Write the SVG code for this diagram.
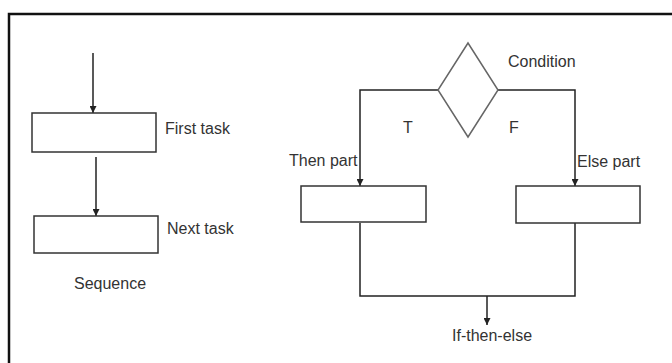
<svg xmlns="http://www.w3.org/2000/svg" width="672" height="363" viewBox="0 0 672 363">
<style>
.ln{fill:none;stroke:#222;stroke-width:1.5}
.bx{fill:#fff;stroke:#333;stroke-width:1.5}
.dm{fill:#fff;stroke:#666;stroke-width:1.5}
text{font-family:"Liberation Sans",Arial,sans-serif;font-size:16px;fill:#333}
</style>
<defs>
<marker id="ah" viewBox="0 0 10 10" refX="10" refY="5" markerWidth="7" markerHeight="7" markerUnits="userSpaceOnUse" orient="auto">
<path d="M0,0 L10,5 L0,10 z" fill="#222"/>
</marker>
</defs>
<rect width="672" height="363" fill="#fff"/>
<path d="M9,363 V14 H672" fill="none" stroke="#111" stroke-width="2.5"/>
<g id="connectors">
<path class="ln" d="M93,53 V113" marker-end="url(#ah)"/>
<path class="ln" d="M96,157 V216" marker-end="url(#ah)"/>
<path class="ln" d="M438,90 H360 V186" marker-end="url(#ah)"/>
<path class="ln" d="M498,90 H575 V186" marker-end="url(#ah)"/>
<path class="ln" d="M360,223 V296 H575 V223"/>
<path class="ln" d="M487,296 V325" marker-end="url(#ah)"/>
</g>
<g id="first-task">
<rect class="bx" x="32" y="113" width="124" height="39"/>
<text x="165" y="134">First task</text>
</g>
<g id="next-task">
<rect class="bx" x="34" y="216" width="124" height="37"/>
<text x="167" y="234">Next task</text>
</g>
<g id="sequence-label">
<text x="74" y="289">Sequence</text>
</g>
<g id="condition">
<polygon class="dm" points="468,43 498,90 468,137 438,90"/>
<text x="508" y="67">Condition</text>
<text x="403" y="133">T</text>
<text x="509" y="133">F</text>
</g>
<g id="then-part">
<rect class="bx" x="301" y="186" width="125" height="36"/>
<text x="289" y="166">Then part</text>
</g>
<g id="else-part">
<rect class="bx" x="516" y="186" width="124" height="37"/>
<text x="577" y="167">Else part</text>
</g>
<g id="if-then-else-label">
<text x="452" y="341">If-then-else</text>
</g>
</svg>
